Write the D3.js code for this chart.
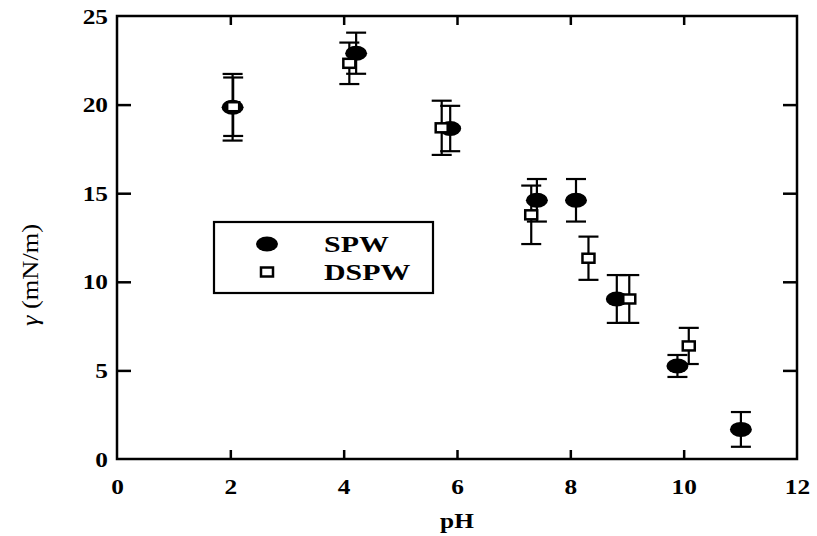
<!DOCTYPE html>
<html>
<head>
<meta charset="utf-8">
<script src="https://cdn.jsdelivr.net/npm/d3@7"></script>
<style>
    body { margin: 0; background: #fff; }
    svg { display: block; }
    text { font-family: "Liberation Serif", "Times New Roman", serif; fill: #000; }
</style>
</head>
<body>
<svg id="chart"></svg>
<script>
// data
const spwPH = [2.04, 4.22, 5.88, 7.41, 8.10, 8.82, 9.89, 11.01];
const spwGamma = [19.85, 22.9, 18.65, 14.6, 14.6, 9.03, 5.25, 1.67];
const spwErr = [1.88, 1.16, 1.28, 1.2, 1.2, 1.35, 0.62, 0.98];

const dspwPH = [2.05, 4.10, 5.73, 7.31, 8.32, 9.04, 10.09];
const dspwGamma = [19.88, 22.33, 18.69, 13.78, 11.33, 9.03, 6.38];
const dspwErr = [1.65, 1.17, 1.53, 1.65, 1.22, 1.35, 1.02];

const xTicks = [0, 2, 4, 6, 8, 10, 12];
const yTicks = [0, 5, 10, 15, 20, 25];

const seriesNames = ["SPW", "DSPW"];

// set the dimensions and margins of the graph
let margin = { top: 16, right: 20, bottom: 77, left: 117 },
    width = 817 - margin.left - margin.right,
    height = 536 - margin.top - margin.bottom;

const stretch = 1.15;

const x = d3.scaleLinear().domain([0, 12]).range([0, width]);
const y = d3.scaleLinear().domain([0, 25]).range([height, 0]);

let svg = d3.select("#chart")
    .attr("width", 817)
    .attr("height", 536);

let g = svg.append("g")
    .attr("transform", "translate(" + margin.left + "," + margin.top + ")");

// widen a text element a bit, the scan is stretched sideways
function widen(sel, f) {
    sel.each(function () {
        let len = this.getComputedTextLength();
        d3.select(this)
            .attr("textLength", len * (f || stretch))
            .attr("lengthAdjust", "spacingAndGlyphs");
    });
}

// axes, ticks pointing inwards
let xAxis = g.append("g")
    .attr("transform", "translate(0," + height + ")")
    .call(d3.axisBottom(x).tickValues(xTicks).tickSize(-9).tickSizeOuter(0).tickPadding(19).tickFormat(d3.format("d")));

let xTop = g.append("g")
    .call(d3.axisTop(x).tickValues(xTicks.slice(1, -1)).tickSize(-9).tickSizeOuter(0).tickFormat(""));

let yAxis = g.append("g")
    .call(d3.axisLeft(y).tickValues(yTicks).tickSize(-14).tickSizeOuter(0).tickPadding(9).tickFormat(d3.format("d")));

let yRight = g.append("g")
    .attr("transform", "translate(" + width + ",0)")
    .call(d3.axisRight(y).tickValues(yTicks.slice(1, -1)).tickSize(-14).tickSizeOuter(0).tickFormat(""));

[xAxis, xTop, yAxis, yRight].forEach(function (a) {
    a.select(".domain").remove();
    a.selectAll("line").attr("stroke", "#000").attr("stroke-width", 2.5);
    a.selectAll("text")
        .style("font-family", "'Liberation Serif', serif")
        .style("font-weight", "bold")
        .style("font-size", "22px")
        .attr("fill", "#000");
});
xAxis.selectAll(".tick").filter(function (d) { return d === 0 || d === 12; }).select("line").remove();
yAxis.selectAll(".tick").filter(function (d) { return d === 0 || d === 25; }).select("line").remove();
widen(xAxis.selectAll("text"));
widen(yAxis.selectAll("text"));

// frame
g.append("rect")
    .attr("width", width)
    .attr("height", height)
    .attr("fill", "none")
    .attr("stroke", "#000")
    .attr("stroke-width", 2.5);

// axis titles
let xt = g.append("text")
    .attr("x", x(6))
    .attr("y", height + 69)
    .attr("text-anchor", "middle")
    .style("font-weight", "bold")
    .style("font-size", "22px")
    .text("pH");
widen(xt);

let yt = svg.append("text")
    .attr("transform", "translate(38,275) rotate(-90)")
    .attr("text-anchor", "middle")
    .style("font-size", "24px");
yt.append("tspan").style("font-style", "italic").text("γ");
yt.append("tspan").text(" (mN/m)");
widen(yt, 1.1);

const capW = 20;

function errorBars(px, py, pe) {
    let eb = g.append("g")
        .attr("stroke", "#000")
        .attr("stroke-width", 2.2);
    px.forEach(function (v, i) {
        let cx = x(v), top = y(py[i] + pe[i]), bot = y(py[i] - pe[i]);
        eb.append("line").attr("x1", cx).attr("x2", cx).attr("y1", top).attr("y2", bot);
        eb.append("line").attr("x1", cx - capW / 2).attr("x2", cx + capW / 2).attr("y1", top).attr("y2", top);
        eb.append("line").attr("x1", cx - capW / 2).attr("x2", cx + capW / 2).attr("y1", bot).attr("y2", bot);
    });
}

// SPW first, DSPW boxes sit on top
errorBars(spwPH, spwGamma, spwErr);
g.selectAll(".spw")
    .data(spwPH)
    .enter().append("ellipse")
    .attr("class", "spw")
    .attr("cx", function (d) { return x(d); })
    .attr("cy", function (d, i) { return y(spwGamma[i]); })
    .attr("rx", 11)
    .attr("ry", 7.5)
    .attr("fill", "#000");

errorBars(dspwPH, dspwGamma, dspwErr);
g.selectAll(".dspw")
    .data(dspwPH)
    .enter().append("rect")
    .attr("class", "dspw")
    .attr("x", function (d) { return x(d) - 6; })
    .attr("y", function (d, i) { return y(dspwGamma[i]) - 4.5; })
    .attr("width", 12)
    .attr("height", 9)
    .attr("fill", "#fff")
    .attr("stroke", "#000")
    .attr("stroke-width", 2.5);

// legend
let legend = svg.append("g").attr("transform", "translate(214,222)");
legend.append("rect")
    .attr("width", 219)
    .attr("height", 71)
    .attr("fill", "#fff")
    .attr("stroke", "#000")
    .attr("stroke-width", 2.2);
legend.append("ellipse")
    .attr("cx", 53).attr("cy", 22)
    .attr("rx", 11).attr("ry", 7.5)
    .attr("fill", "#000");
legend.append("rect")
    .attr("x", 47).attr("y", 45.5)
    .attr("width", 12).attr("height", 9)
    .attr("fill", "#fff")
    .attr("stroke", "#000")
    .attr("stroke-width", 2.5);
let lt = legend.selectAll(".ltext")
    .data(seriesNames)
    .enter().append("text")
    .attr("class", "ltext")
    .attr("x", 110)
    .attr("y", function (d, i) { return 30 + i * 28; })
    .style("font-weight", "bold")
    .style("font-size", "23px")
    .text(function (d) { return d; });
widen(lt, 1.3);
</script>
</body>
</html>
